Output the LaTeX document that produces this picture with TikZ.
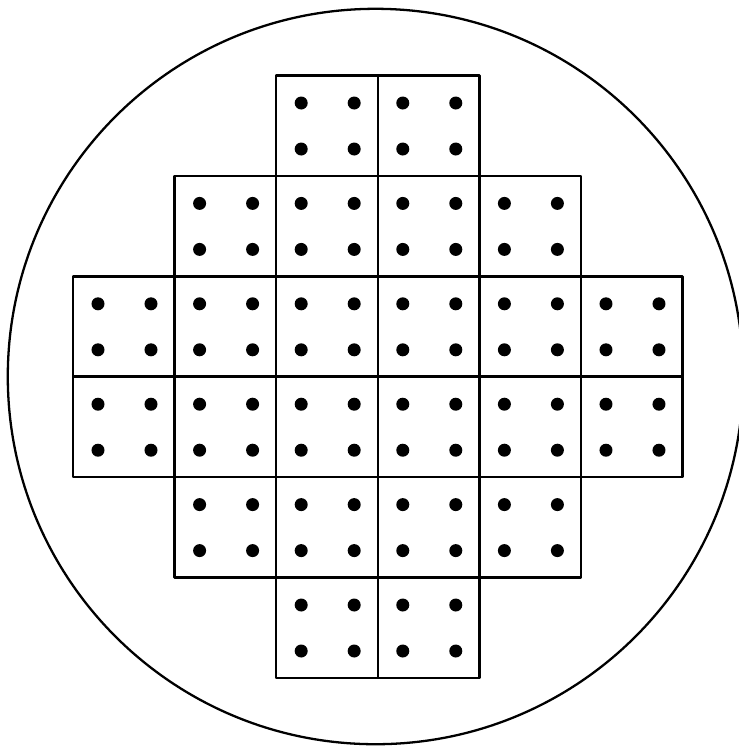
\documentclass[tikz,border=0pt]{standalone}
\usetikzlibrary{calc}

\tikzset{
  cellbox/.style={black,line width=0.7pt},
  pin/.style={black}
}

\begin{document}
\begin{tikzpicture}[x=0.01cm,y=-0.01cm,line cap=round,line join=round]
  \useasboundingbox (0,0) rectangle (739,747);
  \coordinate (C) at (375.5,376.5);

  % wafer outline
  \draw[line width=0.65pt] (C) circle (3.675cm);

  % dies, four pins each
  \foreach \r/\cols in {0/{2,3},1/{1,2,3,4},2/{0,1,2,3,4,5},3/{0,1,2,3,4,5},4/{1,2,3,4},5/{2,3}}
    \foreach \c in \cols {
      \coordinate (d\r\c) at (73+\c*101.6,75.5+\r*100.4);
      \draw[cellbox] (d\r\c) rectangle +(101.6,100.4);
      \fill[pin] ($(d\r\c)+(25,27.5)$) circle (0.065cm)
                 ($(d\r\c)+(78,27.5)$) circle (0.065cm)
                 ($(d\r\c)+(25,73.5)$) circle (0.065cm)
                 ($(d\r\c)+(78,73.5)$) circle (0.065cm);
    }
\end{tikzpicture}
\end{document}
